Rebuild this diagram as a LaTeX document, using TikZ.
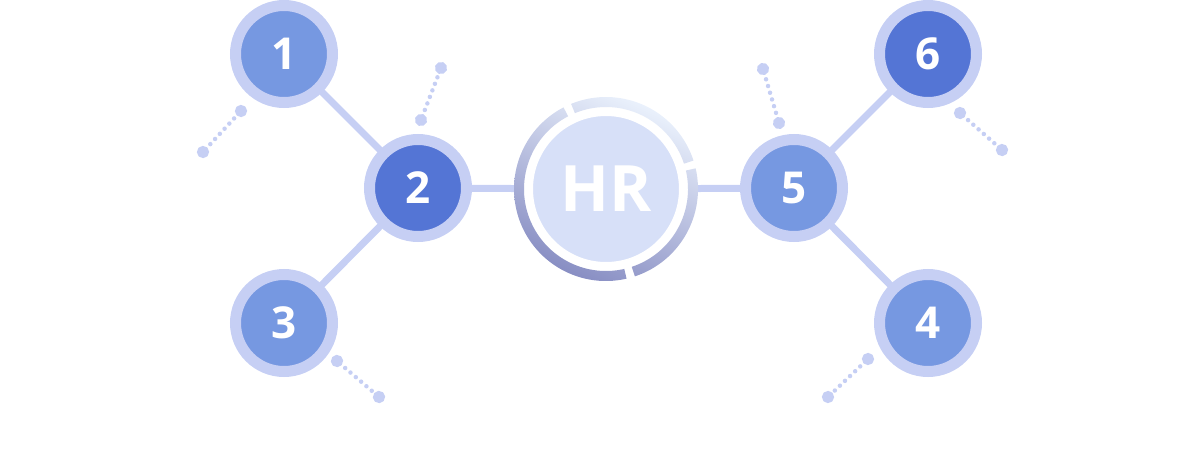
\documentclass[tikz,border=0pt]{standalone}
\usepackage{fontspec}
\setmainfont{Open Sans}
\usetikzlibrary{arrows.meta,backgrounds}
\definecolor{contour}{HTML}{C6CFF4}
\definecolor{moyen}{HTML}{7698E1}
\definecolor{fonce}{HTML}{5475D5}
\definecolor{hrfond}{HTML}{D7E0F8}
\definecolor{anneauclair}{HTML}{EAF1FC}
\definecolor{anneaufonce}{HTML}{888EC3}

\begin{document}
\begin{tikzpicture}[x=1pt,y=1pt]
%
% Styles
%
\tikzset{every node/.style={font=\bfseries\fontsize{44}{44}\selectfont, text=white}};%
\tikzset{bulle/.style={circle, inner sep=0pt, outer sep=0pt, minimum size=97pt, line width=11pt, draw=contour, fill=#1}};%
\tikzset{centre/.style={circle, inner sep=0pt, outer sep=0pt, minimum size=155pt, line width=9pt, draw=white, fill=hrfond, font=\bfseries\fontsize{64}{64}\selectfont}};%
\tikzset{lien/.style={contour, line width=7pt}};%
\tikzset{pointilles/.style={contour, line width=4.5pt, line cap=round, dash pattern=on 0pt off 7pt, {Circle[length=12pt]}-{Circle[length=12pt]}, shorten <=-6pt, shorten >=-6pt}};%

%
% Macros
%
\pgfmathsetmacro{\rint}{82};%
\pgfmathsetmacro{\rext}{92};%

\useasboundingbox (0,0) rectangle (1187,-453);%

%
% Bubbles
%
\node[centre] (hr) at (606,-189) {HR};%
\node[bulle=moyen] (n1) at (284,-54) {1};%
\node[bulle=fonce] (n2) at (418,-188) {2};%
\node[bulle=moyen] (n3) at (284,-323) {3};%
\node[bulle=moyen] (n4) at (928,-323) {4};%
\node[bulle=moyen] (n5) at (794,-188) {5};%
\node[bulle=fonce] (n6) at (928,-54) {6};%

% The ring round HR, in three pieces
\begin{scope}[shift={(hr)}]
    \clip (117.5:\rint) arc[start angle=117.5, end angle=282.9, radius=\rint] -- (282.9:\rext) arc[start angle=282.9, end angle=117.5, radius=\rext] -- cycle
          (-71.7:\rint) arc[start angle=-71.7, end angle=13, radius=\rint] -- (13:\rext) arc[start angle=13, end angle=-71.7, radius=\rext] -- cycle
          (18:\rint) arc[start angle=18, end angle=112.3, radius=\rint] -- (112.3:\rext) arc[start angle=112.3, end angle=18, radius=\rext] -- cycle;
    \shade[top color=anneauclair, bottom color=anneaufonce, shading angle=-25] (-\rext,-\rext) rectangle (\rext,\rext);
\end{scope}

% Links
\begin{pgfonlayer}{background}
    \draw[lien] (n1) -- (n2) -- (n3);%
    \draw[lien] (n2) -- (hr) -- (n5);%
    \draw[lien] (n6) -- (n5) -- (n4);%
\end{pgfonlayer}

% Dotted strokes
\draw[pointilles] (203,-152) -- (241,-111);%
\draw[pointilles] (421,-120) -- (441,-68);%
\draw[pointilles] (337,-361) -- (379,-397);%
\draw[pointilles] (763,-69) -- (779,-123);%
\draw[pointilles] (960,-113) -- (1002,-150);%
\draw[pointilles] (868,-359) -- (828,-397);%
\end{tikzpicture}
\end{document}
